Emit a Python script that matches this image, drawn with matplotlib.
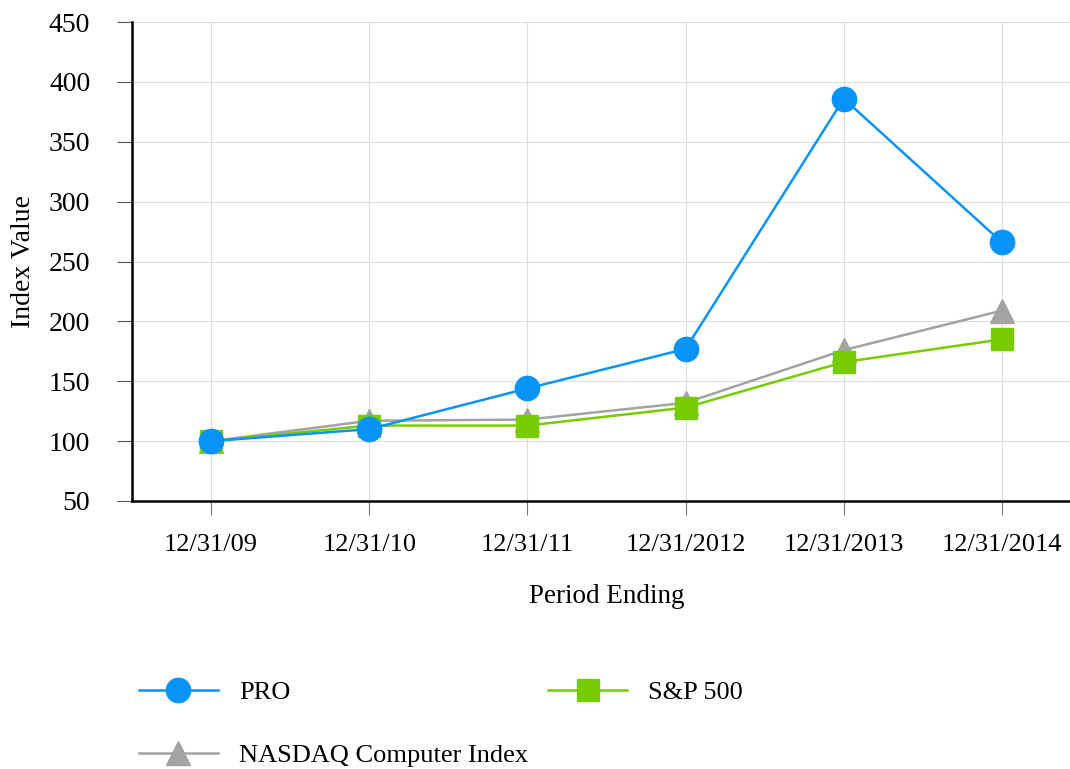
import matplotlib
matplotlib.use("Agg")
import matplotlib.pyplot as plt

periods = ["12/31/09", "12/31/10", "12/31/11", "12/31/2012", "12/31/2013", "12/31/2014"]
pro = [100, 110, 144, 177, 386, 266]
sp500 = [100, 113, 113, 128, 166, 185]
nasdaq_comp = [100, 117, 118, 132, 176, 209]
yticks = [50, 100, 150, 200, 250, 300, 350, 400, 450]

plt.rcParams['font.family'] = ['Liberation Serif', 'DejaVu Serif']

fig = plt.figure(figsize=(10.7, 7.69), dpi=100)
ax = fig.add_axes([132 / 1070, 1 - 501 / 769, (1081 - 132) / 1070, (501 - 22) / 769])

x = list(range(len(periods)))
l3, = ax.plot(x, nasdaq_comp, color='#a3a3a3', lw=1.8, marker='^', ms=17,
              label='NASDAQ Computer Index', zorder=3)
l2, = ax.plot(x, sp500, color='#77cc00', lw=1.8, marker='s', ms=16,
              label='S&P 500', zorder=4)
l1, = ax.plot(x, pro, color='#0894f7', lw=1.8, marker='o', ms=17.5,
              label='PRO', zorder=5)

ax.set_xlim(-0.5, len(periods) - 0.5)
ax.set_ylim(50, 450)
ax.set_xticks(x)
ax.set_xticklabels(periods)
ax.set_yticks(yticks)
ax.tick_params(axis='x', length=10, color='#777777', pad=14, labelsize=19)
ax.tick_params(axis='y', length=11, color='#555555', pad=19, labelsize=20)
ax.grid(True, color='#dddddd', lw=0.8)
ax.set_axisbelow(True)

for s in ['top', 'right']:
    ax.spines[s].set_visible(False)
for s in ['left', 'bottom']:
    ax.spines[s].set_linewidth(1.8)
    ax.spines[s].set_color('black')

ax.set_ylabel('Index Value', fontsize=20, labelpad=9)
ax.set_xlabel('Period Ending', fontsize=19.5, labelpad=20)

fig.legend(handles=[l1, l3, l2], labels=['PRO', 'NASDAQ Computer Index', 'S&P 500'],
           ncol=2, loc='upper left', bbox_to_anchor=(115 / 1070, 1 - 657 / 769),
           frameon=False, fontsize=19, handlelength=3.0, handletextpad=0.8,
           labelspacing=1.5, columnspacing=0.75)

fig.savefig('out.png', dpi=100)
